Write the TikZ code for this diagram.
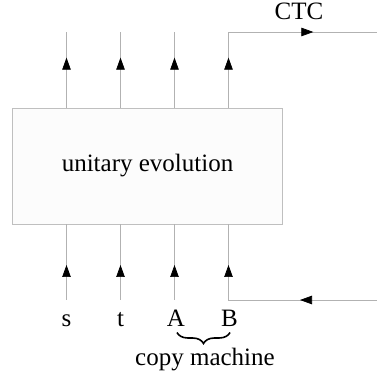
\documentclass[tikz,border=0pt]{standalone}
\usepackage{fontspec}
\setmainfont{Liberation Serif}
\usetikzlibrary{arrows.meta, decorations.markings, decorations.pathreplacing, positioning, calc}

\tikzset{
  head/.tip={Triangle[length=12pt,width=8.5pt]},
  wire/.style={draw=black!30, line width=0.7pt},
  flow/.style={postaction={decorate, decoration={markings, mark=at position #1 with {\arrow[black]{head}}}}},
  box/.style={draw=black!25, fill=black!1, line width=0.7pt, minimum width=270pt, minimum height=116pt},
  lbl/.style={anchor=base, inner sep=1pt}
}

\begin{document}
\begin{tikzpicture}[x=1pt, y=1pt, font=\fontsize{25}{30}\selectfont]
        % Fix the page size
        \useasboundingbox (0,0) rectangle (377,377);

        % The evolution box
        \node[box] (evo) at (147.5,211) {unitary evolution};

        % Labels of the four systems
        \node[lbl] (s) at (66.5,50) {s};
        \node[lbl] (t) at (120.5,50) {t};
        \node[lbl] (A) at (176,50) {A};
        \node[lbl] (B) at (229.5,50) {B};

        % Wires going in and out of the box
        \foreach \n/\x in {s/66.5,t/120.5,A/174.5} {
            \coordinate (\n-in) at (\x,77);
            \coordinate (\n-out) at (\x,345);
            \draw[wire, flow=35pt] (\n-in) -- (evo.south -| \n-in);
            \draw[wire, flow=50pt] (evo.north -| \n-out) -- (\n-out);
        }

        % B comes back round through the CTC
        \coordinate (B-in) at (228.5,77);
        \coordinate (B-out) at (228.5,345);
        \coordinate (ctc-in) at (377,77);
        \coordinate (ctc-out) at (377,345);
        \draw[wire, flow=77pt, flow=183.5pt] (ctc-in) -- (B-in) -- (evo.south -| B-in);
        \draw[wire, flow=50pt, flow=160.5pt] (evo.north -| B-out) -- (B-out) -- (ctc-out);
        \node[lbl] (ctc) at (299,357) {CTC};

        % Brace under A and B
        \draw[decorate, decoration={brace, mirror, amplitude=11pt}, line width=1.6pt]
            (177,44.5) -- (230,44.5);
        \node[lbl] (copy) at (205,12) {copy machine};
\end{tikzpicture}
\end{document}
